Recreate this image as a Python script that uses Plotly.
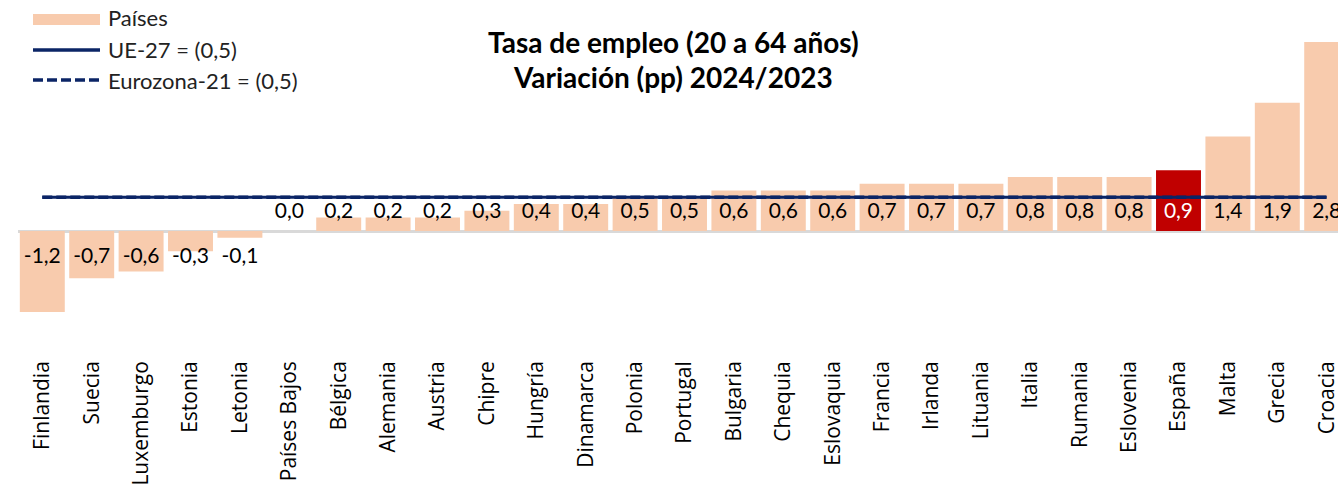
import plotly.graph_objects as go

countries = ["Finlandia", "Suecia", "Luxemburgo", "Estonia", "Letonia", "Países Bajos",
             "Bélgica", "Alemania", "Austria", "Chipre", "Hungría", "Dinamarca", "Polonia",
             "Portugal", "Bulgaria", "Chequia", "Eslovaquia", "Francia", "Irlanda",
             "Lituania", "Italia", "Rumania", "Eslovenia", "España", "Malta", "Grecia", "Croacia"]
values = [-1.2, -0.7, -0.6, -0.3, -0.1, 0.0, 0.2, 0.2, 0.2, 0.3, 0.4, 0.4, 0.5, 0.5,
          0.6, 0.6, 0.6, 0.7, 0.7, 0.7, 0.8, 0.8, 0.8, 0.9, 1.4, 1.9, 2.8]
ue27 = 0.5
eurozona21 = 0.5
highlight = "España"
legend_names = ["Países", "UE-27 = (0,5)", "Eurozona-21 = (0,5)"]
title_lines = ["Tasa de empleo (20 a 64 años)", "Variación (pp) 2024/2023"]

BAR = "#f8cbad"
RED = "#c00000"
NAVY = "#0b2566"
DASH = "10px,4px"

W, H = 1338, 498
ML, MR, MT, MB = 18, 0, 0, 144
PW, PH = W - ML - MR, H - MT - MB
PITCH = 49.4
ZERO_PX, PX_PER_UNIT = 231, 67.5

x0 = -(42.3 - ML) / PITCH
xr = [x0, x0 + PW / PITCH]
yr = [-(MT + PH - ZERO_PX) / PX_PER_UNIT, (ZERO_PX - MT) / PX_PER_UNIT]

def px(x):
    return (x - ML) / PW

def py(y):
    return 1 - (y - MT) / PH

colors = [RED if c == highlight else BAR for c in countries]
txtcolors = ["white" if c == highlight else "black" for c in countries]
labels = [f"{v:.1f}".replace(".", ",") for v in values]
label_y = [0.27 if v >= 0 else -0.40 for v in values]

fig = go.Figure()
fig.add_trace(go.Bar(x=countries, y=values, marker=dict(color=colors, line=dict(width=0)),
                     name=legend_names[0], showlegend=False, hoverinfo="x+y"))
fig.add_trace(go.Scatter(x=[countries[0], countries[-1]], y=[eurozona21] * 2, mode="lines",
                         line=dict(color=NAVY, width=3.5, dash=DASH), name=legend_names[2],
                         showlegend=False))
fig.add_trace(go.Scatter(x=[countries[0], countries[-1]], y=[ue27] * 2, mode="lines",
                         line=dict(color=NAVY, width=3), name=legend_names[1], showlegend=False))
fig.add_trace(go.Scatter(x=countries, y=label_y, mode="text", text=labels,
                         textfont=dict(family="Lato", size=21, color=txtcolors),
                         showlegend=False, hoverinfo="skip", cliponaxis=False))

shapes = [
    dict(type="rect", xref="paper", yref="paper", x0=px(33), x1=px(100), y0=py(25), y1=py(14),
         fillcolor=BAR, line=dict(width=0)),
    dict(type="line", xref="paper", yref="paper", x0=px(33), x1=px(100), y0=py(50), y1=py(50),
         line=dict(color=NAVY, width=3.5)),
    dict(type="line", xref="paper", yref="paper", x0=px(33), x1=px(100), y0=py(80), y1=py(80),
         line=dict(color=NAVY, width=3.5, dash=DASH)),
]
annotations = []
for name, yy in zip(legend_names, [18, 49, 80]):
    annotations.append(dict(text=name, xref="paper", yref="paper", x=px(106), y=py(yy),
                            xanchor="left", yanchor="middle", showarrow=False,
                            font=dict(family="Lato", size=22, color="#222")))
for line, yy in zip(title_lines, [42, 77]):
    annotations.append(dict(text="<b>" + line + "</b>",
                            xref="paper", yref="paper", x=px(673), y=py(yy),
                            xanchor="center", yanchor="middle", showarrow=False,
                            font=dict(family="Lato", size=28, color="black")))

fig.update_layout(
    width=W, height=H, margin=dict(l=ML, r=MR, t=MT, b=MB),
    paper_bgcolor="white", plot_bgcolor="white",
    bargap=0.09, showlegend=False,
    shapes=shapes, annotations=annotations,
    xaxis=dict(range=xr, tickangle=-90, showgrid=False, showline=False, ticks="",
               automargin=False, ticklabelstandoff=2,
               tickfont=dict(family="Open Sans", size=21, color="black")),
    yaxis=dict(range=yr, visible=True, showticklabels=False, showgrid=False, automargin=False,
               zeroline=True, zerolinecolor="#d9d9d9", zerolinewidth=2.5),
)
fig.write_html(
    "out.html",
    config={"displayModeBar": False},
    post_script="document.body.style.margin='0';document.documentElement.style.overflow='hidden';document.body.style.overflow='hidden';",
)
